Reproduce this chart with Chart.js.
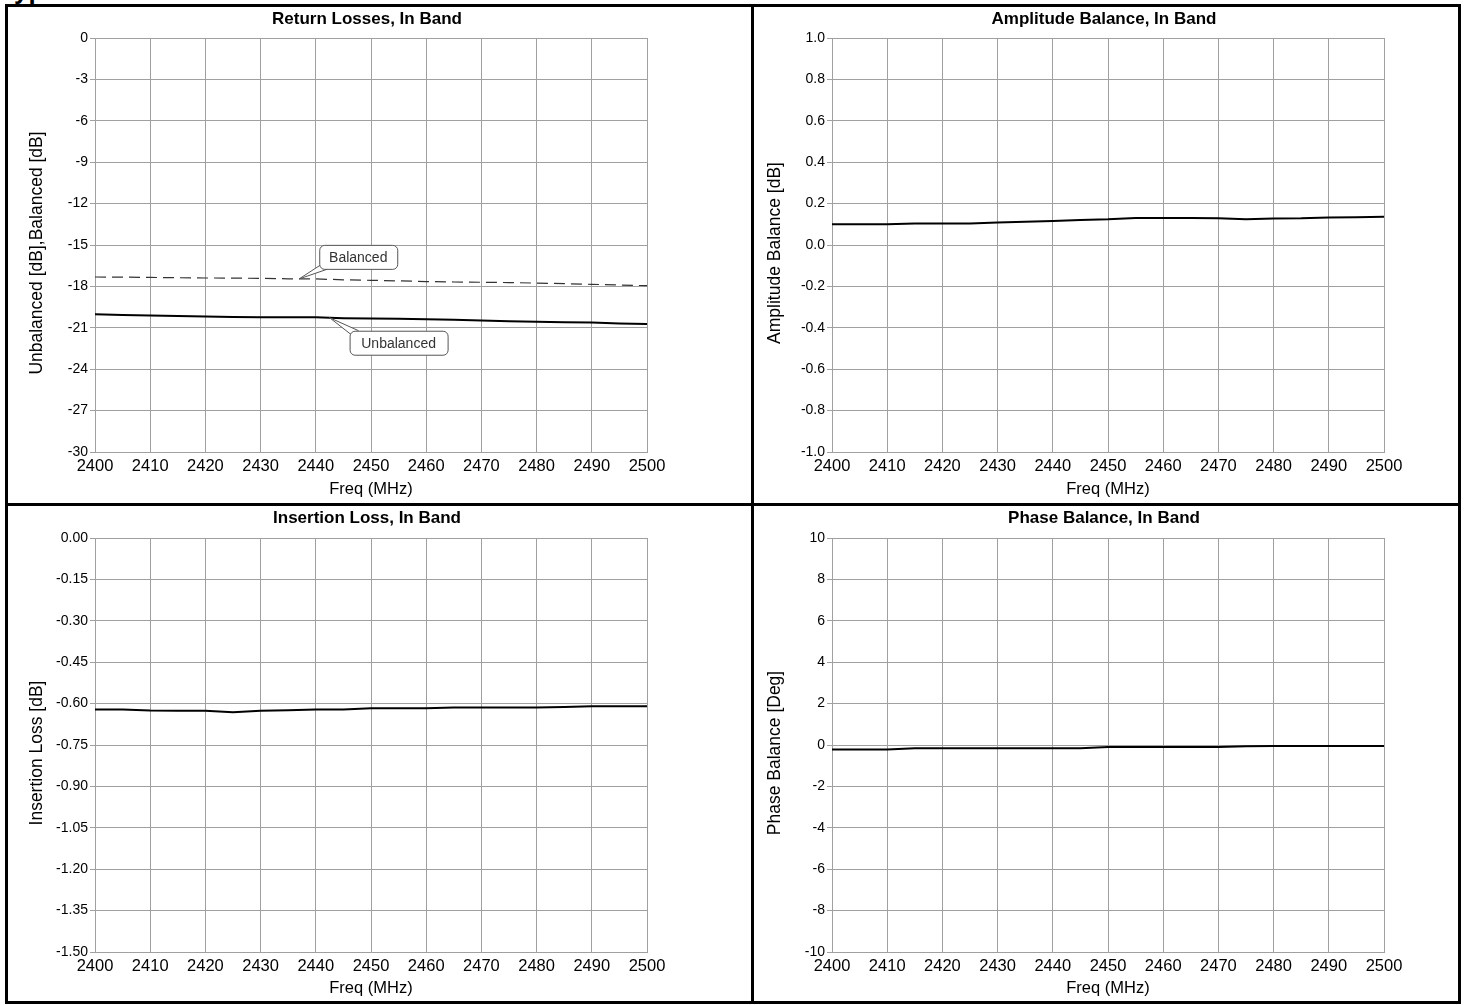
<!DOCTYPE html>
<html lang="en">
<head>
<meta charset="UTF-8">
<title>In Band Performance</title>
<script src="https://cdn.jsdelivr.net/npm/chart.js"></script>
<style>
  body { margin: 0; background: #fff; font-family: "Liberation Sans", Arial, sans-serif; }
  #page { position: relative; width: 1465px; height: 1005px; overflow: hidden; }
  #cut { position: absolute; left: 0; top: 0; width: 300px; height: 5px; overflow: hidden; }
  #cut span { position: absolute; left: 0; top: -23px; font: bold 26px/26px "Liberation Sans", Arial, sans-serif; white-space: nowrap; }
  #frame { position: absolute; left: 5px; top: 4px; width: 1456px; height: 1000px; box-sizing: border-box; border: 3px solid #000; }
  .vline { position: absolute; left: 751px; top: 4px; width: 3px; height: 1000px; background: #000; }
  .hline { position: absolute; left: 5px; top: 503px; width: 1456px; height: 3px; background: #000; }
  canvas { position: absolute; }
</style>
</head>
<body>
<div id="page">
  <div id="cut"><span>Typical Performance</span></div>
  <div id="frame"></div>
  <div class="vline"></div>
  <div class="hline"></div>
  <canvas id="rl" width="743" height="496" style="left:8px;top:7px"></canvas>
  <canvas id="ab" width="704" height="496" style="left:754px;top:7px"></canvas>
  <canvas id="il" width="743" height="495" style="left:8px;top:506px"></canvas>
  <canvas id="pb" width="704" height="495" style="left:754px;top:506px"></canvas>
</div>
<script>
    // frequency points (MHz), every 5 MHz across the band
    const freqs = [2400, 2405, 2410, 2415, 2420, 2425, 2430, 2435, 2440, 2445, 2450,
                   2455, 2460, 2465, 2470, 2475, 2480, 2485, 2490, 2495, 2500];

    // return losses, dB
    const unbalanced = [-20.02, -20.08, -20.10, -20.15, -20.18, -20.22, -20.24, -20.24, -20.24, -20.30, -20.32,
                        -20.34, -20.38, -20.42, -20.47, -20.52, -20.56, -20.59, -20.62, -20.68, -20.72];
    const balanced = [-17.32, -17.33, -17.35, -17.37, -17.39, -17.40, -17.42, -17.45, -17.46, -17.52, -17.56,
                      -17.60, -17.65, -17.68, -17.70, -17.72, -17.76, -17.80, -17.85, -17.90, -17.95];

    // amplitude balance, dB
    const ampBalance = [0.100, 0.100, 0.100, 0.104, 0.104, 0.104, 0.109, 0.112, 0.116, 0.121, 0.124,
                        0.130, 0.130, 0.130, 0.129, 0.125, 0.128, 0.129, 0.133, 0.134, 0.137];

    // insertion loss, dB
    const insLoss = [-0.621, -0.621, -0.625, -0.626, -0.626, -0.631, -0.626, -0.624, -0.621, -0.621, -0.617,
                     -0.617, -0.617, -0.614, -0.614, -0.614, -0.614, -0.612, -0.610, -0.610, -0.610];

    // phase balance, deg
    const phaseBalance = [-0.22, -0.22, -0.22, -0.16, -0.16, -0.16, -0.16, -0.16, -0.16, -0.16, -0.10,
                          -0.10, -0.10, -0.10, -0.10, -0.06, -0.05, -0.05, -0.05, -0.05, -0.05];

    const panelTitles = ['Return Losses, In Band', 'Amplitude Balance, In Band',
                         'Insertion Loss, In Band', 'Phase Balance, In Band'];
    const yTitles = ['Unbalanced [dB],Balanced [dB]', 'Amplitude Balance [dB]',
                     'Insertion Loss [dB]', 'Phase Balance [Deg]'];
    const xTitle = 'Freq (MHz)';

    const fontFamily = '"Liberation Sans", Arial, sans-serif';
    const gridColor = '#a0a0a0';
    Chart.defaults.font.family = fontFamily;
    Chart.defaults.color = '#000';

    // panel heading over the plot area, and the rotated y axis title
    const titlePlugin = {
        id: 'panelTitle',
        afterDraw(chart, args, opts) {
            const ctx = chart.ctx;
            const ca = chart.chartArea;
            ctx.save();
            ctx.fillStyle = '#000';
            ctx.textAlign = 'center';
            ctx.textBaseline = 'middle';
            ctx.font = 'bold 17px ' + fontFamily;
            ctx.fillText(opts.text, (ca.left + ca.right) / 2 - 4, 12);
            ctx.translate(opts.yx, (ca.top + ca.bottom) / 2 + 8);
            ctx.rotate(-Math.PI / 2);
            ctx.font = '17.5px ' + fontFamily;
            ctx.fillText(opts.ytitle, 0, 0);
            ctx.restore();
        }
    };

    // y of a series at frequency f, only used to pin the label pointers
    function valueAt(series, f) {
        let i = 0;
        while (i < freqs.length - 2 && freqs[i + 1] < f) i++;
        const t = (f - freqs[i]) / (freqs[i + 1] - freqs[i]);
        return series[i] + (series[i + 1] - series[i]) * t;
    }

    // little boxed labels with a pointer, like the original plot
    const callouts = [
        {text: 'Balanced', series: balanced, at: 2437, dx: 20, dy: -34, w: 78},
        {text: 'Unbalanced', series: unbalanced, at: 2442.5, dx: 20, dy: 13, w: 98}
    ];
    const calloutPlugin = {
        id: 'callouts',
        afterDatasetsDraw(chart) {
            const ctx = chart.ctx;
            const xs = chart.scales.x, ys = chart.scales.y;
            ctx.save();
            callouts.forEach(c => {
                const tx = xs.getPixelForValue(c.at);
                const ty = ys.getPixelForValue(valueAt(c.series, c.at));
                const bx = tx + c.dx, by = ty + c.dy, h = 24;
                // pointer wedge
                const cy = c.dy < 0 ? by + h : by;
                ctx.beginPath();
                ctx.moveTo(bx + 3, cy + (c.dy < 0 ? -5 : 5));
                ctx.lineTo(tx, ty);
                ctx.lineTo(bx + 9, cy);
                ctx.fillStyle = '#fff';
                ctx.fill();
                ctx.strokeStyle = '#555';
                ctx.lineWidth = 1;
                ctx.stroke();
                // box
                ctx.beginPath();
                ctx.roundRect(bx + 0.5, by + 0.5, c.w, h, 5);
                ctx.fillStyle = '#fff';
                ctx.fill();
                ctx.strokeStyle = '#555';
                ctx.stroke();
                ctx.fillStyle = '#333';
                ctx.font = '14px ' + fontFamily;
                ctx.textAlign = 'center';
                ctx.textBaseline = 'middle';
                ctx.fillText(c.text, bx + c.w / 2, by + h / 2 + 1);
            });
            ctx.restore();
        }
    };

    function makePanel(id, o) {
        return new Chart(document.getElementById(id), {
            type: 'line',
            data: {
                datasets: o.series.map(s => ({
                    data: freqs.map((f, i) => ({x: f, y: s.values[i]})),
                    borderColor: s.color,
                    borderWidth: s.width,
                    borderDash: s.dash || [],
                    pointRadius: 0,
                    fill: false,
                    tension: 0
                }))
            },
            options: {
                responsive: false,
                animation: false,
                layout: {padding: {top: o.top, right: o.right, left: 0, bottom: 0}},
                plugins: {
                    legend: {display: false},
                    tooltip: {enabled: false},
                    panelTitle: {text: o.title, ytitle: o.ytitle, yx: o.yt}
                },
                scales: {
                    x: {
                        type: 'linear', min: 2400, max: 2500,
                        afterFit: s => { s.height = o.xh; },
                        ticks: {stepSize: 10, padding: 5, font: {size: 16.5}, maxRotation: 0, autoSkip: false,
                                callback: v => String(v)},
                        grid: {color: gridColor, drawTicks: false},
                        border: {color: gridColor},
                        title: {display: true, text: xTitle, font: {size: 16.5}, padding: {top: 0, bottom: o.xt}}
                    },
                    y: {
                        min: o.min, max: o.max,
                        afterFit: s => { s.width = o.left; },
                        ticks: {stepSize: o.step, padding: 2, font: {size: 14}, autoSkip: false,
                                callback: v => {
                                    const t = Number(v).toFixed(o.dec);
                                    return Number(t) === 0 ? (0).toFixed(o.dec) : t;
                                }},
                        grid: {color: gridColor, tickLength: 5},
                        border: {color: gridColor}
                    }
                }
            },
            plugins: [titlePlugin].concat(o.extra ? [o.extra] : [])
        });
    }

    makePanel('rl', {
        title: panelTitles[0], ytitle: yTitles[0],
        min: -30, max: 0, step: 3, dec: 0,
        top: 31, right: 104, left: 87, xh: 51, yt: 29, xt: 4,
        series: [
            {values: balanced, color: '#333', width: 1.2, dash: [11, 6]},
            {values: unbalanced, color: '#000', width: 2}
        ],
        extra: calloutPlugin
    });

    makePanel('ab', {
        title: panelTitles[1], ytitle: yTitles[1],
        min: -1, max: 1, step: 0.2, dec: 1,
        top: 31, right: 74, left: 78, xh: 51, yt: 21, xt: 4,
        series: [{values: ampBalance, color: '#000', width: 2}]
    });

    makePanel('il', {
        title: panelTitles[2], ytitle: yTitles[2],
        min: -1.5, max: 0, step: 0.15, dec: 2,
        top: 32, right: 104, left: 87, xh: 49, yt: 29, xt: 3,
        series: [{values: insLoss, color: '#000', width: 2}]
    });

    makePanel('pb', {
        title: panelTitles[3], ytitle: yTitles[3],
        min: -10, max: 10, step: 2, dec: 0,
        top: 32, right: 74, left: 78, xh: 49, yt: 21, xt: 3,
        series: [{values: phaseBalance, color: '#000', width: 2}]
    });
</script>
</body>
</html>
